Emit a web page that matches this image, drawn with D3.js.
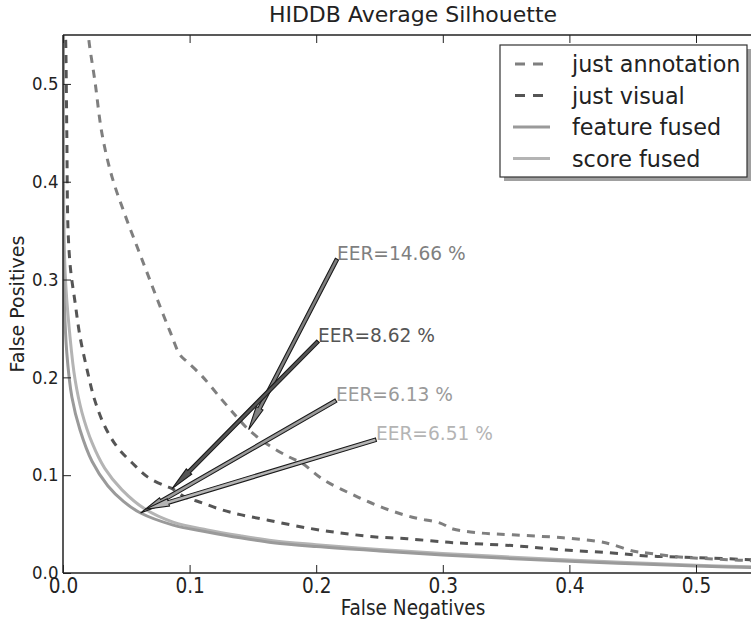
<!DOCTYPE html>
<html><head><meta charset="utf-8">
<script src="https://cdn.jsdelivr.net/npm/d3@7/dist/d3.min.js"></script>
<style>html,body{margin:0;padding:0;background:#fff;}svg{display:block;font-family:"DejaVu Sans",sans-serif;}</style>
</head><body>
<svg id="chart" width="751" height="622"></svg>
<script>
// ---- data ----
const title = "HIDDB Average Silhouette";
const xLabel = "False Negatives";
const yLabel = "False Positives";
const xTicks = [0.0, 0.1, 0.2, 0.3, 0.4, 0.5];
const yTicks = [0.0, 0.1, 0.2, 0.3, 0.4, 0.5];
const seriesNames = ["just annotation", "just visual", "feature fused", "score fused"];
const seriesColors = ["#7f7f7f", "#555555", "#9a9a9a", "#b4b4b4"];
const seriesDashed = [true, true, false, false];

const annotFN = [0.0195,0.0205,0.0253,0.0308,0.0387,0.049,0.059,0.067,0.075,0.0845,0.0924,0.098,0.11,0.1256,0.137,0.1466,0.162,0.178,0.189,0.205,0.229,0.253,0.276,0.298,0.308,0.329,0.355,0.395,0.424,0.434,0.45,0.461,0.487,0.513,0.56];
const annotFP = [0.56,0.544,0.502,0.449,0.405,0.366,0.332,0.305,0.278,0.247,0.223,0.216,0.201,0.177,0.160,0.1466,0.131,0.119,0.112,0.096,0.080,0.0666,0.057,0.051,0.045,0.041,0.039,0.036,0.032,0.029,0.0225,0.0205,0.0164,0.0143,0.0118];

const visualFN = [0.0015,0.002,0.003,0.004,0.006,0.0095,0.0134,0.019,0.025,0.033,0.0427,0.0545,0.067,0.0806,0.0862,0.096,0.11,0.1256,0.141,0.162,0.193,0.219,0.245,0.272,0.298,0.308,0.355,0.395,0.434,0.461,0.487,0.56];
const visualFP = [0.56,0.55,0.45,0.35,0.31,0.277,0.242,0.208,0.177,0.150,0.129,0.1127,0.098,0.089,0.0862,0.078,0.0717,0.0645,0.0594,0.054,0.046,0.041,0.037,0.035,0.032,0.031,0.028,0.0236,0.0205,0.0174,0.0164,0.0128];

const featureFN = [0.0003,0.0008,0.003,0.007,0.0134,0.023,0.0355,0.048,0.0613,0.087,0.114,0.14,0.166,0.2,0.25,0.3,0.35,0.4,0.45,0.5,0.56];
const featureFP = [0.56,0.29,0.225,0.18,0.1465,0.114,0.089,0.073,0.0613,0.049,0.042,0.036,0.031,0.027,0.0225,0.0185,0.015,0.012,0.0095,0.0072,0.005];

const scoreFN = [0.0005,0.0016,0.0055,0.0095,0.015,0.023,0.033,0.0466,0.0651,0.087,0.114,0.14,0.166,0.2,0.25,0.3,0.35,0.4,0.45,0.5,0.56];
const scoreFP = [0.56,0.31,0.242,0.198,0.164,0.133,0.107,0.085,0.0651,0.052,0.044,0.038,0.033,0.029,0.024,0.02,0.0165,0.0133,0.0105,0.008,0.0058];

// EER annotations: value (%) and text anchor (data coords)
const eerValues = [14.66, 8.62, 6.13, 6.51];
const eerTextX = [0.2164, 0.2014, 0.2156, 0.2472];
const eerTextY = [0.327, 0.243, 0.1824, 0.1424];

// ---- layout ----
const svg = d3.select("#chart");
const M = {left: 63, top: 35, bottom: 573};
const x = d3.scaleLinear().domain([0, 0.55]).range([M.left, M.left + 0.55 * 1266]);
const y = d3.scaleLinear().domain([0, 0.55]).range([M.bottom, M.top]);

svg.append("defs").append("clipPath").attr("id", "clip")
  .append("rect").attr("x", M.left).attr("y", M.top)
  .attr("width", x(0.55) - M.left).attr("height", M.bottom - M.top);

const seriesFN = [annotFN, visualFN, featureFN, scoreFN];
const seriesFP = [annotFP, visualFP, featureFP, scoreFP];

const line = d3.line().x(d => x(d[0])).y(d => y(d[1])).curve(d3.curveCatmullRom.alpha(0.5));
const plot = svg.append("g").attr("clip-path", "url(#clip)");

[3, 2, 1, 0].forEach(i => {
  const pts = seriesFN[i].map((v, k) => [v, seriesFP[i][k]]);
  plot.append("path").attr("d", line(pts))
    .attr("fill", "none").attr("stroke", seriesColors[i])
    .attr("stroke-width", 3)
    .attr("stroke-dasharray", seriesDashed[i] ? "8,7" : null);
});

// arrows
eerValues.forEach((v, i) => {
  const tx = x(eerTextX[i]), ty = y(eerTextY[i]) + 6;
  const px = x(v / 100), py = y(v / 100);
  const dx = px - tx, dy = py - ty, L = Math.hypot(dx, dy);
  const ux = dx / L, uy = dy / L, nx = -uy, ny = ux;
  const w = 1.8, hw = 3.8, hl = 24;
  const bx = px - ux * hl, by = py - uy * hl;
  const pts = [
    [tx + nx * w, ty + ny * w], [bx + nx * w, by + ny * w], [bx + nx * hw, by + ny * hw],
    [px, py], [bx - nx * hw, by - ny * hw], [bx - nx * w, by - ny * w], [tx - nx * w, ty - ny * w]
  ];
  plot.append("polygon").attr("points", pts.map(p => p.join(",")).join(" "))
    .attr("fill", seriesColors[i]).attr("stroke", "#1a1a1a").attr("stroke-width", 1.1);
});
eerValues.forEach((v, i) => {
  svg.append("text").attr("x", x(eerTextX[i])).attr("y", y(eerTextY[i]))
    .attr("dominant-baseline", "central").attr("font-size", 18.6)
    .attr("fill", seriesColors[i]).text("EER=" + v.toFixed(2) + " %");
});

// spines
const axisColor = "#222";
svg.append("line").attr("x1", M.left).attr("x2", M.left).attr("y1", M.top).attr("y2", M.bottom).attr("stroke", axisColor).attr("stroke-width", 1.5);
svg.append("line").attr("x1", M.left).attr("x2", 760).attr("y1", M.bottom).attr("y2", M.bottom).attr("stroke", axisColor).attr("stroke-width", 1.5);
svg.append("line").attr("x1", M.left).attr("x2", 760).attr("y1", M.top).attr("y2", M.top).attr("stroke", axisColor).attr("stroke-width", 1.5);

// axes via d3 (inward ticks)
const fmt = d3.format(".1f");
const xAxis = svg.append("g").attr("transform", `translate(0,${M.bottom})`)
  .call(d3.axisBottom(x).tickValues(xTicks).tickFormat(fmt).tickSizeInner(-8).tickSizeOuter(0).tickPadding(5));
const xTop = svg.append("g").attr("transform", `translate(0,${M.top})`)
  .call(d3.axisTop(x).tickValues(xTicks).tickFormat("").tickSizeInner(-8).tickSizeOuter(0));
const yAxis = svg.append("g").attr("transform", `translate(${M.left},0)`)
  .call(d3.axisLeft(y).tickValues(yTicks).tickFormat(fmt).tickSizeInner(-8).tickSizeOuter(0).tickPadding(5));
[xAxis, xTop, yAxis].forEach(g => {
  g.select(".domain").remove();
  g.selectAll(".tick line").attr("stroke", axisColor).attr("stroke-width", 1);
  g.selectAll("text").attr("fill", "#222").attr("font-family", "DejaVu Sans");
});
xAxis.selectAll("text").attr("font-size", 21).attr("transform", "scale(0.88,1)");
yAxis.selectAll("text").attr("font-size", 18).attr("transform", "scale(0.92,1)");

// titles
svg.append("text").attr("x", 413).attr("y", 22).attr("text-anchor", "middle")
  .attr("font-size", 22).attr("fill", "#222").text(title);
svg.append("text").attr("x", 413).attr("y", 615).attr("text-anchor", "middle")
  .attr("font-size", 21).attr("fill", "#222")
  .attr("transform", "translate(413,0) scale(0.88,1) translate(-413,0)").text(xLabel);
svg.append("text").attr("transform", `translate(24,${(M.top + M.bottom) / 2}) rotate(-90)`)
  .attr("text-anchor", "middle").attr("font-size", 19).attr("fill", "#222").text(yLabel);

// legend
const lg = svg.append("g");
const LX = 500, LY = 45, LW = 247, LH = 132;
lg.append("rect").attr("x", LX + 4).attr("y", LY + 4).attr("width", LW).attr("height", LH).attr("fill", "#a0a0a0");
lg.append("rect").attr("x", LX).attr("y", LY).attr("width", LW).attr("height", LH).attr("fill", "#fff").attr("stroke", "#333").attr("stroke-width", 1.2);
seriesNames.forEach((n, i) => {
  const yy = LY + 19 + i * 31.5;
  lg.append("line").attr("x1", LX + (seriesDashed[i] ? 15 : 13)).attr("x2", LX + (seriesDashed[i] ? 43 : 50)).attr("y1", yy).attr("y2", yy)
    .attr("stroke", seriesColors[i]).attr("stroke-width", 3)
    .attr("stroke-dasharray", seriesDashed[i] ? "10,8" : null);
  lg.append("text").attr("x", LX + 72).attr("y", yy).attr("dominant-baseline", "central")
    .attr("font-size", 22.3).attr("fill", "#222").text(n);
});
</script>
</body></html>
